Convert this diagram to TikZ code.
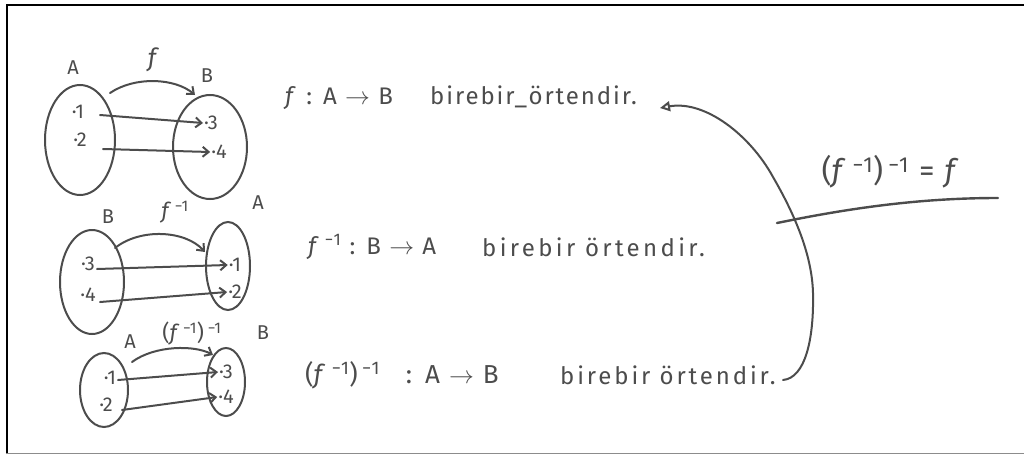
\documentclass[tikz,border=0pt]{standalone}
\usepackage{fontspec}
\setmainfont{Fira Sans}
\usetikzlibrary{arrows.meta,shapes.geometric}
\newcommand{\wide}[1]{\addfontfeatures{LetterSpace=#1}}
\begin{document}
\begin{tikzpicture}[x=1pt,y=-1pt,
  ink/.style={draw=black!70, line width=2pt, line cap=round},
  setell/.style={ellipse, draw=black!70, line width=2pt, inner sep=0pt},
  pt/.style={text=black!70, font=\fontsize{20}{20}\selectfont, inner sep=1pt},
  lab/.style={text=black!70, font=\fontsize{20}{20}\selectfont, inner sep=0pt},
  hand/.style={text=black!70, font=\fontsize{24}{24}\selectfont, inner sep=0pt, anchor=west},
  maparrow/.style={ink, -{Straight Barb[length=6pt,width=10pt]}},
  bigarrow/.style={ink, -{Triangle[open,length=10pt,width=10pt]}}
]
\useasboundingbox (0,0) rectangle (1024,455);
% frame
\draw[black, line width=2pt] (6.5,454) -- (6.5,4.5) -- (1024,4.5);
\draw[black!45, line width=1.5pt] (6,453.5) -- (1024,453.5);

% ---------- diagram 1 : f ----------
\node[setell, minimum width=70pt, minimum height=110pt] (eA1) at (80,140) {};
\node[setell, minimum width=74pt, minimum height=104pt] (eB1) at (210,147) {};
\node[lab] (lA1) at (73,68) {A};
\node[lab, font=\fontsize{25}{25}\selectfont\itshape] (lf1) at (152,60) {f};
\node[lab] (lB1) at (207,76) {B};
\node[pt] (a11) at (78,112) {·1};
\node[pt] (a12) at (80,140) {·2};
\node[pt] (b13) at (211,123) {·3};
\node[pt] (b14) at (219,152) {·4};
\coordinate (s11) at (100,115);
\coordinate (s12) at (103,149);
\coordinate (t11) at (110,93);
\coordinate (t12) at (195,95);
\draw[maparrow] (s11) -- (b13.west);
\draw[maparrow] (s12) -- (b14.west);
\draw[maparrow] (t11) .. controls (135,76) and (175,78) .. (t12);

% ---------- diagram 2 : f^{-1} ----------
\node[setell, minimum width=64pt, minimum height=104pt] (eB2) at (92,282) {};
\node[setell, minimum width=44pt, minimum height=88pt] (eA2) at (228,266) {};
\node[lab] (lB2) at (108,217) {B};
\node[lab, font=\fontsize{22}{22}\selectfont] (lf2) at (175,212) {\textit{f}\,\textsuperscript{−1}};
\node[lab] (lA2) at (258,203) {A};
\node[pt] (b23) at (88,264) {·3};
\node[pt] (b24) at (88,295) {·4};
\node[pt] (a21) at (235,265) {·1};
\node[pt] (a22) at (235,292) {·2};
\coordinate (s21) at (97,269);
\coordinate (s22) at (100,302);
\coordinate (t21) at (115,248);
\coordinate (t22) at (205,252);
\draw[maparrow] (s21) -- (a21.west);
\draw[maparrow] (s22) -- (a22.west);
\draw[maparrow] (t21) .. controls (140,228) and (185,230) .. (t22);

% ---------- diagram 3 : (f^{-1})^{-1} ----------
\node[setell, minimum width=48pt, minimum height=74pt] (eA3) at (104,390) {};
\node[setell, minimum width=38pt, minimum height=68pt] (eB3) at (226,382) {};
\node[lab] (lA3) at (130,342) {A};
\node[lab, font=\fontsize{22}{22}\selectfont] (lf3) at (192,334) {(\textit{f}\,\textsuperscript{−1})\,\textsuperscript{−1}};
\node[lab] (lB3) at (263,333) {B};
\node[pt] (a31) at (110,378) {·1};
\node[pt] (a32) at (106,405) {·2};
\node[pt] (b33) at (226,372) {·3};
\node[pt] (b34) at (226,397) {·4};
\coordinate (s31) at (118,380);
\coordinate (s32) at (122,410);
\coordinate (t31) at (132,362);
\coordinate (t32) at (213,355);
\draw[maparrow] (s31) -- (b33.west);
\draw[maparrow] (s32) -- (b34.west);
\draw[maparrow] (t31) .. controls (155,345) and (195,345) .. (t32);

% ---------- statements ----------
\node[hand] (f1) at (285,98) {\wide{8}\textit{f} : A $\rightarrow$ B};
\node[hand] (w1) at (430,97) {\wide{8}birebir\_örtendir.};
\node[hand] (f2) at (308,247) {\wide{8}\textit{f}\,\textsuperscript{−1} : B $\rightarrow$ A};
\node[hand] (w2) at (482,247) {\wide{14}birebir örtendir.};
\node[hand, font=\fontsize{26}{26}\selectfont] (f3) at (305,375) {\wide{8}(\textit{f}\,\textsuperscript{−1})\,\textsuperscript{−1}\quad :\enspace A $\rightarrow$ B};
\node[hand] (w3) at (560,375) {\wide{12}birebir örtendir.};

% conclusion
\node[text=black!70, font=\fontsize{31}{31}\selectfont, inner sep=0pt] (res) at (891,172) {\wide{6}(\textit{f}\,\textsuperscript{−1})\,\textsuperscript{−1} = \textit{f}};
\coordinate (h1) at (777,223);
\coordinate (h2) at (998,198);
\draw[ink, line width=2.4pt] (h1) .. controls (850,208) and (920,198) .. (h2);

\coordinate (c3) at (783,380);
\coordinate (c1) at (660,108);
\draw[bigarrow] (c3) .. controls (805,378) and (814,340) .. (813,293)
  .. controls (812,255) and (795,215) .. (773,177)
  .. controls (750,135) and (705,100) .. (c1);
\end{tikzpicture}
\end{document}
